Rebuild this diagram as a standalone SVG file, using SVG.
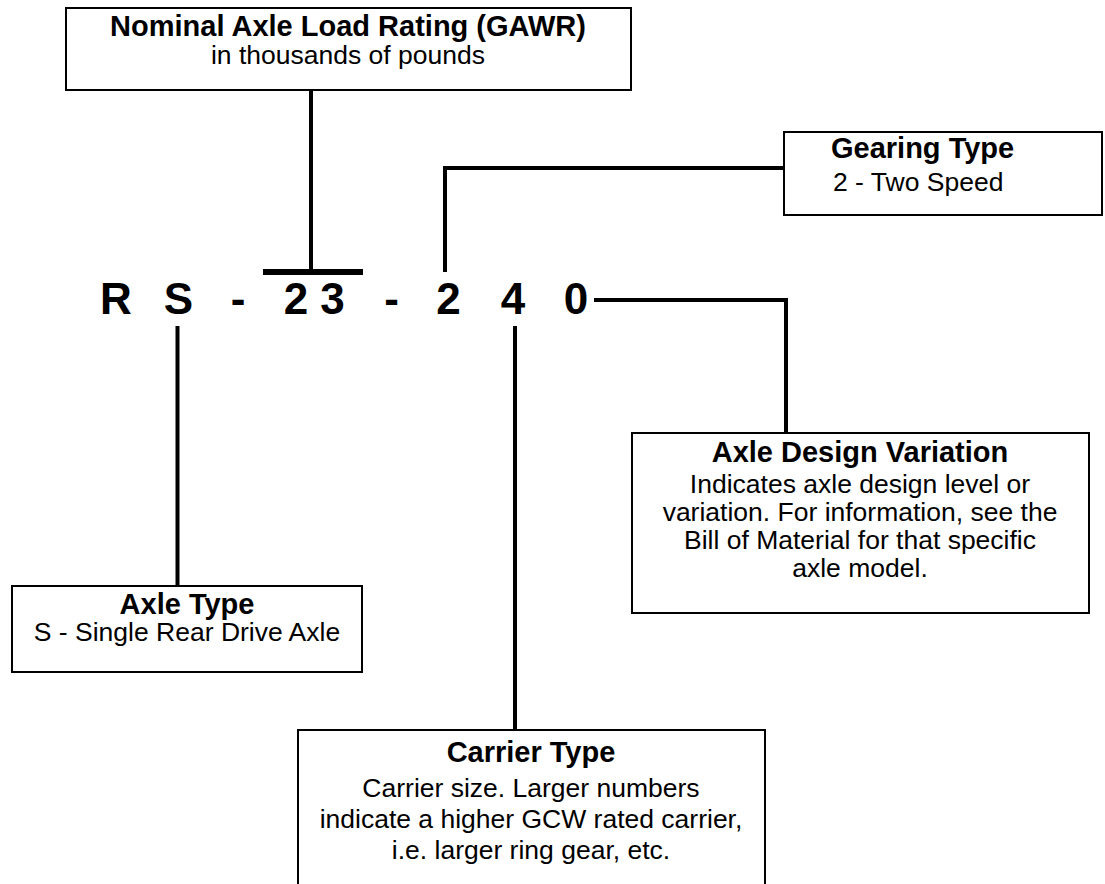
<svg xmlns="http://www.w3.org/2000/svg" width="1105" height="884" viewBox="0 0 1105 884">
  <style>
    .box { fill: #fff; stroke: #000; stroke-width: 2; }
    .conn { fill: none; stroke: #000; stroke-width: 4; stroke-linecap: butt; stroke-linejoin: miter; }
    .title { font-family: "Liberation Sans", Arial, Helvetica, sans-serif; font-weight: bold; font-size: 29px; fill: #000; }
    .body { font-family: "Liberation Sans", Arial, Helvetica, sans-serif; font-size: 26.5px; fill: #000; }
    .code { font-family: "Liberation Sans", Arial, Helvetica, sans-serif; font-weight: bold; font-size: 44px; fill: #000; text-anchor: middle; }
    .c { text-anchor: middle; }
  </style>
  <rect width="1105" height="884" fill="#fff"/>

  <g id="connectors">
    <line class="conn" x1="311" y1="90" x2="311" y2="270"/>
    <line x1="263" y1="272" x2="363" y2="272" stroke="#000" stroke-width="6"/>
    <polyline class="conn" points="784,168 445,168 445,272"/>
    <polyline class="conn" points="594,300 786,300 786,433"/>
    <line class="conn" x1="177.5" y1="326" x2="177.5" y2="586"/>
    <line class="conn" x1="515" y1="326" x2="515" y2="730"/>
  </g>

  <g id="model-code">
    <text class="code" y="314"><tspan x="116">R</tspan><tspan x="178.5">S</tspan><tspan x="238">-</tspan><tspan x="296">2</tspan><tspan x="332.5">3</tspan><tspan x="391.5">-</tspan><tspan x="448.5">2</tspan><tspan x="513">4</tspan><tspan x="576">0</tspan></text>
  </g>

  <g id="node-gawr">
    <rect class="box" x="66" y="8" width="565" height="82"/>
    <text class="title c" x="348" y="36">Nominal Axle Load Rating (GAWR)</text>
    <text class="body c" x="348" y="64">in thousands of pounds</text>
  </g>

  <g id="node-gearing">
    <rect class="box" x="784" y="132" width="318" height="83"/>
    <text class="title" x="831" y="158">Gearing Type</text>
    <text class="body" x="833" y="191">2 - Two Speed</text>
  </g>

  <g id="node-variation">
    <rect class="box" x="632" y="433" width="457" height="180"/>
    <text class="title c" x="860" y="462">Axle Design Variation</text>
    <text class="body c" x="860" y="493">Indicates axle design level or</text>
    <text class="body c" x="860" y="521">variation. For information, see the</text>
    <text class="body c" x="860" y="549">Bill of Material for that specific</text>
    <text class="body c" x="860" y="577">axle model.</text>
  </g>

  <g id="node-axle-type">
    <rect class="box" x="12" y="586" width="350" height="86"/>
    <text class="title c" x="187" y="614">Axle Type</text>
    <text class="body c" x="187" y="641">S - Single Rear Drive Axle</text>
  </g>

  <g id="node-carrier">
    <rect class="box" x="298" y="730" width="467" height="200"/>
    <text class="title c" x="531" y="762">Carrier Type</text>
    <text class="body c" x="531" y="797">Carrier size. Larger numbers</text>
    <text class="body c" x="531" y="828">indicate a higher GCW rated carrier,</text>
    <text class="body c" x="531" y="859">i.e. larger ring gear, etc.</text>
  </g>
</svg>
